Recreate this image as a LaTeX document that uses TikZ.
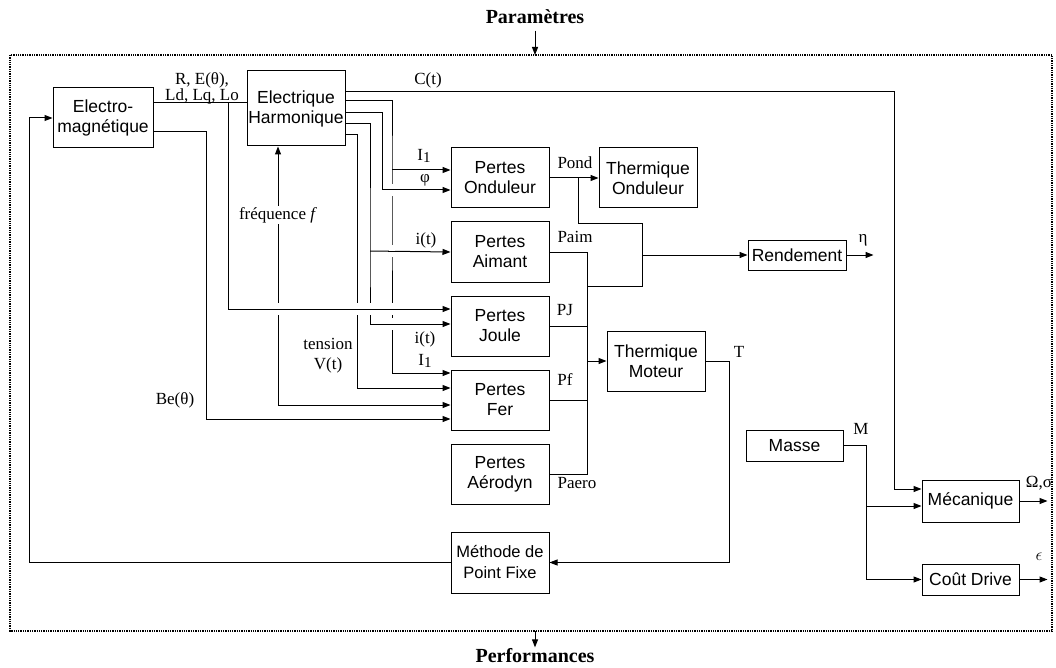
\documentclass[tikz,border=0pt]{standalone}
\usepackage{fontspec}
\setmainfont{Liberation Serif}
\setsansfont{Liberation Sans}
\usetikzlibrary{arrows.meta,positioning,calc}
\newcommand{\Iun}{I\raisebox{-2pt}{\fontsize{15}{15}\selectfont 1}}

\begin{document}
\begin{tikzpicture}[x=1pt,y=-1pt,line width=1pt,node distance=13pt,
>={Triangle[length=8pt,width=6pt]},
block/.style={draw,align=center,inner sep=1pt,minimum width=98pt,minimum height=60pt,font=\sffamily\fontsize{17.5}{20}\selectfont},
lbl/.style={inner sep=1pt,align=center,font=\fontsize{17}{19}\selectfont},
titre/.style={inner sep=1pt,font=\bfseries\fontsize{20}{21}\selectfont}]
\useasboundingbox (0,0) rectangle (1056,668);
% cadre
\node[titre](par) at (535,17){Paramètres};
\node[titre](perf) at (535,656){Performances};
\draw[densely dotted,line width=1.3pt] (10,55) rectangle (1052,631);
\draw[->] ([yshift=-5pt]par.south) -- (par.south |- 0,55);
\draw[->] (perf.north |- 0,631) -- (perf.north);
% blocs
\node[block,minimum width=100pt](em) at (103,118){Electro-\\magnétique};
\node[block,minimum height=75pt](eh) at (296,108.5){Electrique\\Harmonique};
\node[block](po) at (500,178){Pertes\\Onduleur};
\node[block,right=49pt of po](to){Thermique\\Onduleur};
\node[block,below=of po](pa){Pertes\\Aimant};
\node[block,below=of pa](pj){Pertes\\Joule};
\node[block,below=of pj](pf){Pertes\\Fer};
\node[block,below=of pf](pae){Pertes\\Aérodyn};
\node[block](tm) at (656,361){Thermique\\Moteur};
\node[block,minimum height=30pt](rd) at (797,255){Rendement};
\node[block,minimum width=97pt,minimum height=31pt](ma) at (794.5,445.5){Masse};
\node[block,minimum width=97pt,minimum height=42pt](me) at (970.5,501){Mécanique};
\node[block,minimum width=97pt,minimum height=31pt](cd) at (970.5,579.5){Coût Drive};
\node[block,minimum height=61pt,font=\sffamily\fontsize{16.5}{21}\selectfont](mpf) at (500,562.5){Méthode de\\Point Fixe};
% points de branchement
\coordinate (j1) at (228,103);
\coordinate (j2) at (392,170);
\coordinate (j3) at (370,251);
\coordinate (jp) at (578,178);
\coordinate (jr) at (642,255);
\coordinate (js) at (587,361);
\coordinate (jm) at (866,506);
% liaisons
\draw (em.east |- j1) -- (eh.west |- j1);
\draw[->] (j1) |- (pj.west |- 0,309);
\draw[->] (em.east |- 0,132) -- ++(53,0) |- (pf.west |- 0,419);
\draw[->] (eh.east |- 0,92) -- ++(549,0) |- (me.west |- 0,489);
\draw[->] (eh.east |- 0,101) -| (j2) |- (pf.west |- 0,373);
\draw[->] (j2) -- (po.west |- j2);
\draw[->] (eh.east |- 0,113) -- ++(37,0) |- (po.west |- 0,190);
\draw[->] (eh.east |- 0,124) -| (j3) |- (pj.west |- 0,324);
\draw[->] (j3) -- (pa.west);
\draw[->] (eh.east |- 0,135) -- ++(12,0) |- (pf.west |- 0,388);
\draw[<->] (278,0 |- eh.south) |- (pf.west |- 0,405);
\draw[->] (po) -- (to);
\draw (jp) |- (jr |- 0,224) -- (jr |- 0,286) -- (js |- 0,286);
\draw[->] (jr) -- (rd.west);
\draw (pa.east) -| (js |- pae.east) -- (pae.east);
\draw (pj.east) -- (js |- pj.east);
\draw (pf.east) -- (js |- pf.east);
\draw[->] (js) -- (tm.west);
\draw[->] (tm.east) -- ++(24,0) |- (mpf.east);
\draw[->] (mpf.west) -- ++(-421,0) |- (em.west);
\draw[->] (rd.east) -- ++(27,0);
\draw[->] (ma.east) -| (jm) |- (cd.west);
\draw[->] (jm) -- (me.west |- jm);
\draw[->] (me.east) -- ++(28,0);
\draw[->] (cd.east) -- ++(28,0);
% sauts aux croisements
\foreach \gx/\gy in {392/190,392/251,392/309,392/324,370/309,357/309,278/309}{
  \fill[white] (\gx-3,\gy-6) rectangle (\gx+3,\gy+6);
  \draw (\gx-4,\gy) -- (\gx+4,\gy);
}
% etiquettes
\node[lbl,font=\fontsize{17}{16}\selectfont](lr) at (202,88){R, E(θ),\\Ld, Lq, Lo};
\node[lbl](lc) at (428,80){C(t)};
\node[lbl](li1) at (424,156){\Iun};
\node[lbl](lphi) at (425,180){φ};
\node[lbl](lia) at (426,240){i(t)};
\node[lbl](lij) at (425,339){i(t)};
\node[lbl](li2) at (425,361){\Iun};
\node[lbl,fill=white](lf) at (278,215){fréquence \textit{f}};
\node[lbl,font=\fontsize{17}{20}\selectfont](lv) at (328,356){tension\\V(t)};
\node[lbl](lbe) at (175,400){Be(θ)};
\node[lbl](lpo) at (575,163){Pond};
\node[lbl](lpa) at (575,237){Paim};
\node[lbl](lpj) at (565,310){PJ};
\node[lbl](lpf) at (565,380){Pf};
\node[lbl](lpae) at (577,483){Paero};
\node[lbl](lt) at (739,352){T};
\node[lbl](leta) at (863,240){η};
\node[lbl](lm) at (861,429){M};
\node[lbl](lom) at (1039,483){Ω,σ};
\node[lbl,font=\fontsize{19}{19}\selectfont](leps) at (1039,557){$\epsilon$};
\end{tikzpicture}
\end{document}
